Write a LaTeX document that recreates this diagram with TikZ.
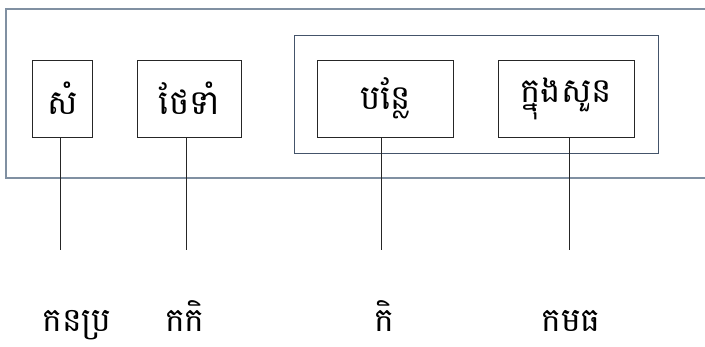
\documentclass[tikz,border=0pt]{standalone}
\usepackage{fontspec}
\newfontfamily\khmerfont[Script=Khmer]{Battambang}
\definecolor{outerc}{HTML}{8090A2}
\definecolor{innerc}{HTML}{44546A}
\begin{document}
\begin{tikzpicture}[x=1pt,y=-1pt,
  box/.style={draw=black!85,line width=0.9pt,inner sep=0pt,font=\khmerfont\fontsize{34}{40}\selectfont},
  lbl/.style={anchor=base,inner sep=0pt,font=\khmerfont\fontsize{33}{40}\selectfont},
  conn/.style={draw=black!85,line width=0.9pt}]
\useasboundingbox (0,0) rectangle (705,347);
% outer frame (open on the right)
\coordinate (otr) at (705,9);
\coordinate (otl) at (5.7,9);
\coordinate (obl) at (5.7,178);
\coordinate (obr) at (705,178);
\draw[outerc,line width=1.8pt] (otr) -- (otl) -- (obl) -- (obr);
% inner frame
\node[draw=innerc,line width=0.9pt,minimum width=363.3pt,minimum height=117.3pt,inner sep=0pt] (inner) at (476.35,94.35) {};
% boxes
\node[box,minimum width=60.7pt,minimum height=77pt] (b1) at (62.35,98.5) {សំ};
\node[box,minimum width=104.7pt,minimum height=77pt] (b2) at (189.35,98.5) {ថែទាំ};
\node[box,minimum width=136pt,minimum height=77pt] (b3) at (385.7,98.5) {បន្លែ};
\node[box,minimum width=136pt,minimum height=77pt] (b4) at (566.3,98.5) {ក្នុងសួន};
% connector ends
\coordinate (e1) at (60.7,250);
\coordinate (e2) at (186,250);
\coordinate (e3) at (381.7,250);
\coordinate (e4) at (569,250);
\draw[conn] (b1.south -| e1) -- (e1);
\draw[conn] (b2.south -| e2) -- (e2);
\draw[conn] (b3.south -| e3) -- (e3);
\draw[conn] (b4.south -| e4) -- (e4);
% labels
\node[lbl] (t1) at (77,332) {កនប្រ};
\node[lbl] (t2) at (185,332) {កកិ};
\node[lbl] (t3) at (384,332) {កិ};
\node[lbl] (t4) at (571,332) {កមធ};
\end{tikzpicture}
\end{document}
